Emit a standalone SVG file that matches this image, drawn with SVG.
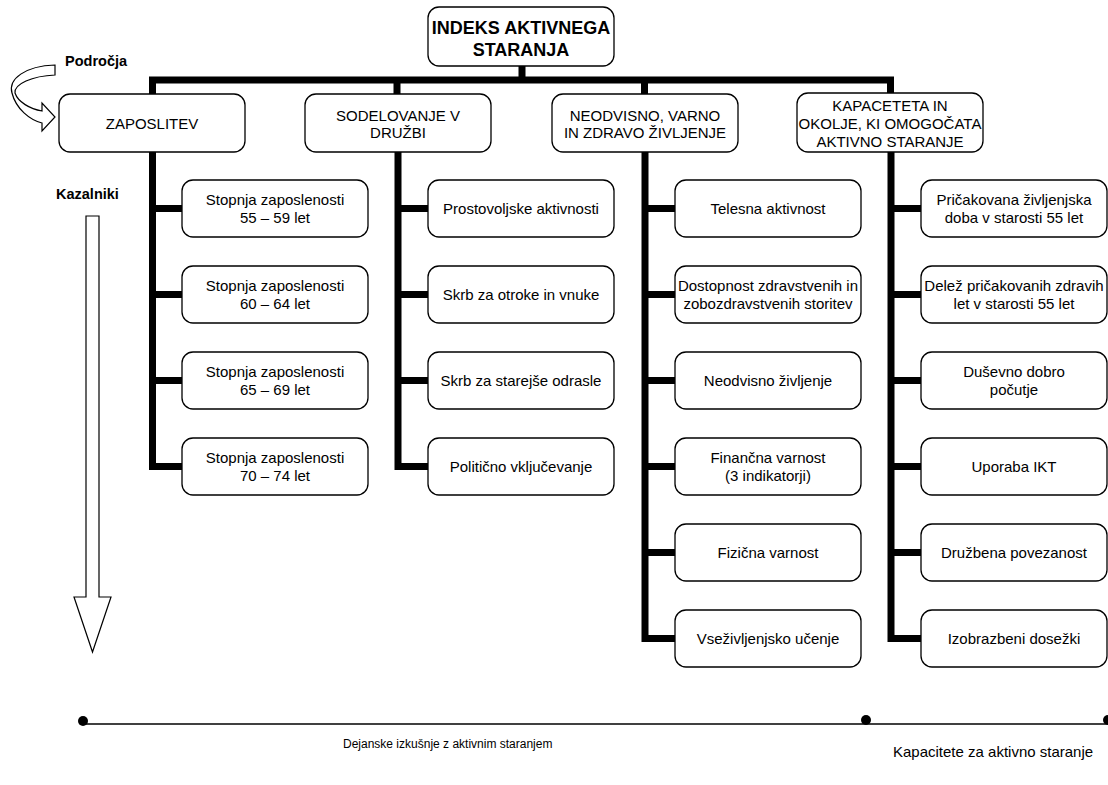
<svg xmlns="http://www.w3.org/2000/svg" width="1108" height="785" viewBox="0 0 1108 785">
<style>
.box{fill:#fff;stroke:#000;stroke-width:1.3}
.t{font-family:"Liberation Sans",Arial,sans-serif;font-size:15px;fill:#000;text-anchor:middle}
.tb{font-family:"Liberation Sans",Arial,sans-serif;font-weight:bold;fill:#000}
.c{fill:none;stroke:#000;stroke-width:7;stroke-linejoin:miter;stroke-linecap:butt}
.thin{fill:#fff;stroke:#000;stroke-width:1.2}
</style>
<rect width="1108" height="785" fill="#fff"/>
<g id="connectors">
<path class="c" d="M522,66V80M152.5,94V80H890.5V93M397,80V94M644.5,80V94"/>
<path class="c" d="M152.5,152V466.5H182M152.5,208.5H182M152.5,294.5H182M152.5,380.5H182"/>
<path class="c" d="M398,152V466.5H428M398,208.5H428M398,294.5H428M398,380.5H428"/>
<path class="c" d="M645,152V638.5H675M645,208.5H675M645,294.5H675M645,380.5H675M645,466.5H675M645,552.5H675"/>
<path class="c" d="M891,152V638.5H921M891,208.5H921M891,294.5H921M891,380.5H921M891,466.5H921M891,552.5H921"/>
</g>
<g id="title">
<rect class="box" x="428" y="7" width="186" height="59" rx="11"/>
<text class="tb" x="521" y="33.5" font-size="18" text-anchor="middle">INDEKS AKTIVNEGA</text>
<text class="tb" x="521" y="55.5" font-size="18" text-anchor="middle">STARANJA</text>
</g>
<g id="zaposlitev">
<rect class="box" x="59" y="94" width="186" height="58" rx="11"/>
<text class="t" x="152" y="128.5">ZAPOSLITEV</text>
</g>
<g id="sodelovanje">
<rect class="box" x="305" y="94" width="186" height="58" rx="11"/>
<text class="t" x="398" y="120.5">SODELOVANJE V</text>
<text class="t" x="398" y="138">DRUŽBI</text>
</g>
<g id="neodvisno">
<rect class="box" x="552" y="94" width="186" height="58" rx="11"/>
<text class="t" x="645" y="120.5">NEODVISNO, VARNO</text>
<text class="t" x="645" y="138">IN ZDRAVO ŽIVLJENJE</text>
</g>
<g id="kapacitete">
<rect class="box" x="797" y="93" width="186" height="59" rx="11"/>
<text class="t" x="890" y="110.5">KAPACETETA IN</text>
<text class="t" x="890" y="128.5">OKOLJE, KI OMOGOČATA</text>
<text class="t" x="890" y="146.5">AKTIVNO STARANJE</text>
</g>
<g id="z1"><rect class="box" x="182" y="180" width="186" height="57" rx="11"/><text class="t" x="275" y="205">Stopnja zaposlenosti</text><text class="t" x="275" y="223">55 – 59 let</text></g>
<g id="z2"><rect class="box" x="182" y="266" width="186" height="57" rx="11"/><text class="t" x="275" y="291">Stopnja zaposlenosti</text><text class="t" x="275" y="309">60 – 64 let</text></g>
<g id="z3"><rect class="box" x="182" y="352" width="186" height="57" rx="11"/><text class="t" x="275" y="377">Stopnja zaposlenosti</text><text class="t" x="275" y="395">65 – 69 let</text></g>
<g id="z4"><rect class="box" x="182" y="438" width="186" height="57" rx="11"/><text class="t" x="275" y="463">Stopnja zaposlenosti</text><text class="t" x="275" y="481">70 – 74 let</text></g>
<g id="s1"><rect class="box" x="428" y="180" width="186" height="57" rx="11"/><text class="t" x="521" y="214">Prostovoljske aktivnosti</text></g>
<g id="s2"><rect class="box" x="428" y="266" width="186" height="57" rx="11"/><text class="t" x="521" y="300">Skrb za otroke in vnuke</text></g>
<g id="s3"><rect class="box" x="428" y="352" width="186" height="57" rx="11"/><text class="t" x="521" y="386">Skrb za starejše odrasle</text></g>
<g id="s4"><rect class="box" x="428" y="438" width="186" height="57" rx="11"/><text class="t" x="521" y="472">Politično vključevanje</text></g>
<g id="n1"><rect class="box" x="675" y="180" width="186" height="57" rx="11"/><text class="t" x="768" y="214">Telesna aktivnost</text></g>
<g id="n2"><rect class="box" x="675" y="266" width="186" height="57" rx="11"/><text class="t" x="768" y="291">Dostopnost zdravstvenih in</text><text class="t" x="768" y="309">zobozdravstvenih storitev</text></g>
<g id="n3"><rect class="box" x="675" y="352" width="186" height="57" rx="11"/><text class="t" x="768" y="386">Neodvisno življenje</text></g>
<g id="n4"><rect class="box" x="675" y="438" width="186" height="57" rx="11"/><text class="t" x="768" y="463">Finančna varnost</text><text class="t" x="768" y="481">(3 indikatorji)</text></g>
<g id="n5"><rect class="box" x="675" y="524" width="186" height="57" rx="11"/><text class="t" x="768" y="558">Fizična varnost</text></g>
<g id="n6"><rect class="box" x="675" y="610" width="186" height="57" rx="11"/><text class="t" x="768" y="644">Vseživljenjsko učenje</text></g>
<g id="k1"><rect class="box" x="921" y="180" width="186" height="57" rx="11"/><text class="t" x="1014" y="205">Pričakovana življenjska</text><text class="t" x="1014" y="223">doba v starosti 55 let</text></g>
<g id="k2"><rect class="box" x="921" y="266" width="186" height="57" rx="11"/><text class="t" x="1014" y="291">Delež pričakovanih zdravih</text><text class="t" x="1014" y="309">let v starosti 55 let</text></g>
<g id="k3"><rect class="box" x="921" y="352" width="186" height="57" rx="11"/><text class="t" x="1014" y="377">Duševno dobro</text><text class="t" x="1014" y="395">počutje</text></g>
<g id="k4"><rect class="box" x="921" y="438" width="186" height="57" rx="11"/><text class="t" x="1014" y="472">Uporaba IKT</text></g>
<g id="k5"><rect class="box" x="921" y="524" width="186" height="57" rx="11"/><text class="t" x="1014" y="558">Družbena povezanost</text></g>
<g id="k6"><rect class="box" x="921" y="610" width="186" height="57" rx="11"/><text class="t" x="1014" y="644">Izobrazbeni dosežki</text></g>
<g id="podrocja">
<path class="thin" d="M55,65C25,66 8,79 12,93C16,109 30,120 42,123L42,131L55,117L42,103L42,111C30,109 18,102 15,93C14,84 32,76 55,75Z"/>
<text class="tb" x="65" y="66" font-size="14.5">Področja</text>
</g>
<g id="kazalniki">
<path class="thin" d="M86,216H99V597H111L92.5,652L74,597H86Z"/>
<text class="tb" x="56" y="199" font-size="14.5">Kazalniki</text>
</g>
<g id="timeline">
<path d="M83,724H1108" stroke="#000" stroke-width="1.5" fill="none"/>
<circle cx="83" cy="721" r="5"/>
<circle cx="866" cy="720" r="5"/>
<circle cx="1108" cy="720" r="5"/>
<text font-family="'Liberation Sans',Arial,sans-serif" font-size="12" x="343" y="748">Dejanske izkušnje z aktivnim staranjem</text>
<text font-family="'Liberation Sans',Arial,sans-serif" font-size="15" x="893" y="757">Kapacitete za aktivno staranje</text>
</g>
</svg>
